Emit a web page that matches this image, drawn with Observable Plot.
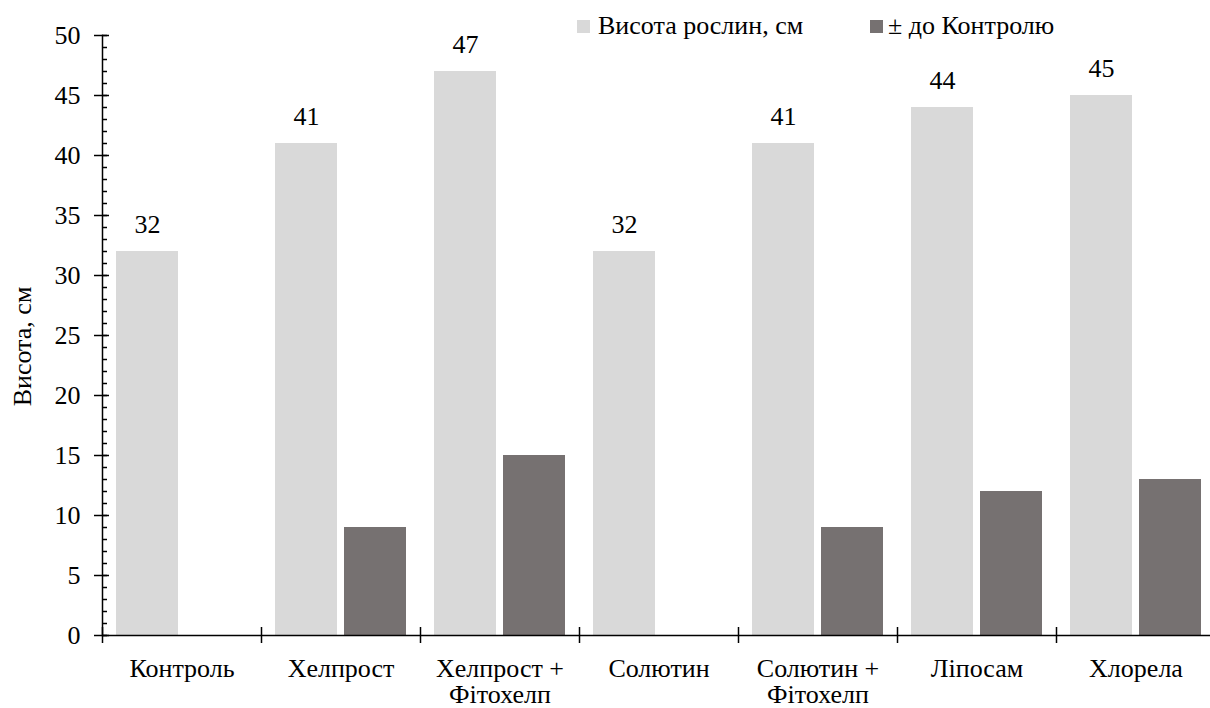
<!DOCTYPE html>
<html>
<head>
<meta charset="utf-8">
<script src="https://cdn.jsdelivr.net/npm/d3@7"></script>
<script src="https://cdn.jsdelivr.net/npm/@observablehq/plot@0.6"></script>
<style>
  html, body { margin: 0; padding: 0; background: #fff; }
  #wrap { position: relative; width: 1210px; height: 708px; overflow: hidden; }
</style>
</head>
<body>
<div id="wrap"></div>
<script>
const categories = ["Контроль", "Хелпрост", "Хелпрост + Фітохелп", "Солютин", "Солютин + Фітохелп", "Ліпосам", "Хлорела"];
const categoryLabels = ["Контроль", "Хелпрост", "Хелпрост +\nФітохелп", "Солютин", "Солютин +\nФітохелп", "Ліпосам", "Хлорела"];
const heightValues = [32, 41, 47, 32, 41, 44, 45];
const diffValues = [0, 9, 15, 0, 9, 12, 13];
const seriesNames = ["Висота рослин, см", "± до Контролю"];
const seriesColors = ["#d9d9d9", "#767171"];
const yTicks = [0, 5, 10, 15, 20, 25, 30, 35, 40, 45, 50];
const yMinorTicks = d3.range(0, 51, 1);
const yTitle = "Висота, см";

const W = 1210, H = 708;
const mL = 102, mR = -5, mT = 35, mB = 73;
const frameW = W - mL - mR;
const band = frameW / categories.length;
const FONT = "Liberation Serif";
const FS = 26;

const lightData = categories.map((c, i) => ({cat: c, v: heightValues[i]}));
const darkData = categories.map((c, i) => ({cat: c, v: diffValues[i]}));
const labelOf = new Map(categories.map((c, i) => [c, categoryLabels[i]]));

const chart = Plot.plot({
  width: W,
  height: H,
  marginLeft: mL,
  marginRight: mR,
  marginTop: mT,
  marginBottom: mB,
  style: {fontFamily: FONT, fontSize: FS + "px", color: "#000", background: "#fff"},
  x: {domain: categories, padding: 0, axis: null},
  y: {domain: [0, 50], axis: null},
  marks: [
    Plot.barY(lightData, {x: "cat", y: "v", fill: seriesColors[0], insetLeft: 14, insetRight: band - 76}),
    Plot.barY(darkData, {x: "cat", y: "v", fill: seriesColors[1], insetLeft: 83, insetRight: band - 145}),
    Plot.text(lightData, {x: "cat", y: "v", text: d => String(d.v), dx: -band / 2 + 45, dy: -27, fontSize: FS, fontFamily: FONT, fill: "#000"}),
    Plot.ruleY(yMinorTicks, {stroke: "#000", strokeWidth: 1.5, insetLeft: 0, insetRight: frameW - 5}),
    Plot.ruleY(yTicks, {stroke: "#000", strokeWidth: 1.5, insetLeft: -8, insetRight: frameW - 7}),
    Plot.axisY({ticks: yTicks, tickSize: 0, tickPadding: 22, fontSize: FS, fontFamily: FONT, label: null}),
    Plot.frame({anchor: "left", stroke: "#000", strokeWidth: 1.5}),
    Plot.ruleY([0], {stroke: "#000", strokeWidth: 1.5}),
    Plot.ruleX(categories, {x: d => d, y1: 0, y2: 0, dx: -band / 2, insetTop: -8, insetBottom: -8, stroke: "#000", strokeWidth: 1.5}),
    Plot.axisX({tickSize: 0, tickPadding: 22, fontSize: FS, fontFamily: FONT, tickFormat: d => labelOf.get(d), lineHeight: 1.03, label: null}),
    Plot.text([yTitle], {frameAnchor: "left", textAnchor: "middle", lineAnchor: "middle", text: d => d, rotate: -90, dx: -80, dy: 11, fontSize: FS, fontFamily: FONT, fill: "#000"})
  ]
});

const wrap = document.getElementById("wrap");
wrap.appendChild(chart);

const swX = [577, 870], textX = [598, 888];
seriesNames.forEach((name, i) => {
  const sw = document.createElement("div");
  sw.style.cssText = `position:absolute;left:${swX[i]}px;top:20px;width:13px;height:13px;background:${seriesColors[i]};`;
  wrap.appendChild(sw);
  const t = document.createElement("div");
  t.style.cssText = `position:absolute;left:${textX[i]}px;top:11px;font-family:'Liberation Serif';font-size:${FS}px;line-height:30px;color:#000;white-space:nowrap;`;
  t.textContent = name;
  wrap.appendChild(t);
});
</script>
</body>
</html>
